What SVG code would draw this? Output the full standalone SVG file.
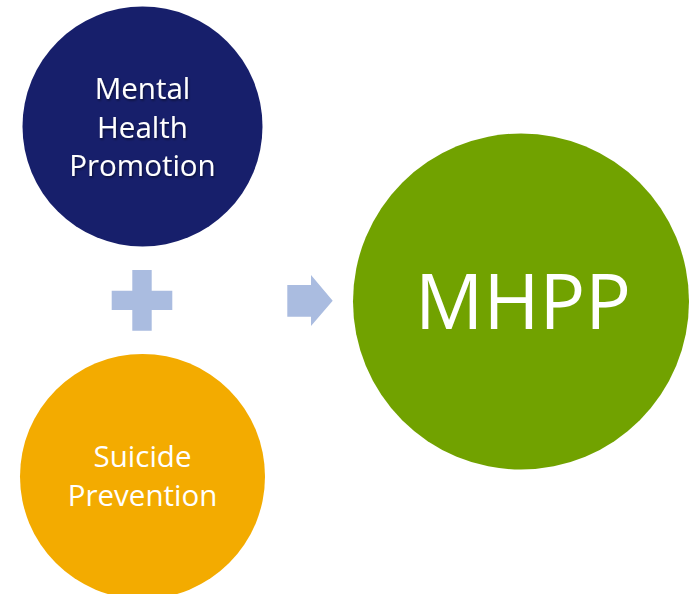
<svg xmlns="http://www.w3.org/2000/svg" width="695" height="594" viewBox="0 0 695 594">
<style>
.lbl{font-family:"Open Sans","Noto Sans","Liberation Sans",sans-serif;fill:#ffffff;text-anchor:middle}
.sym{fill:#AABCE0}
</style>
<defs>
<filter id="sh" x="-10%" y="-10%" width="120%" height="130%">
<feDropShadow dx="1" dy="1.5" stdDeviation="1" flood-color="#000000" flood-opacity="0.5"/>
</filter>
</defs>
<rect width="695" height="594" fill="#ffffff"/>
<g id="mental-health-promotion">
<circle cx="142.5" cy="126.5" r="120" fill="#171F6B"/>
<text class="lbl" font-size="29.5" filter="url(#sh)"><tspan x="142.5" y="99">Mental</tspan><tspan x="142.5" y="137.5">Health</tspan><tspan x="142.5" y="176">Promotion</tspan></text>
</g>
<g id="suicide-prevention">
<circle cx="142.5" cy="476.5" r="122.5" fill="#F3AB00"/>
<text class="lbl" font-size="29.5"><tspan x="142.5" y="467">Suicide</tspan><tspan x="142.5" y="505.5">Prevention</tspan></text>
</g>
<g id="mhpp">
<circle cx="521" cy="301.5" r="168" fill="#71A200"/>
<text class="lbl" font-size="76" x="523" y="329">MHPP</text>
</g>
<g id="connectors">
<path class="sym" d="M132.3 270H151.7V290.7H172.3V310H151.7V330.7H132.3V310H111.7V290.7H132.3Z"/>
<path class="sym" d="M287.3 285H311V275L332.7 300.7L311 326V316.7H287.3Z"/>
</g>
</svg>
